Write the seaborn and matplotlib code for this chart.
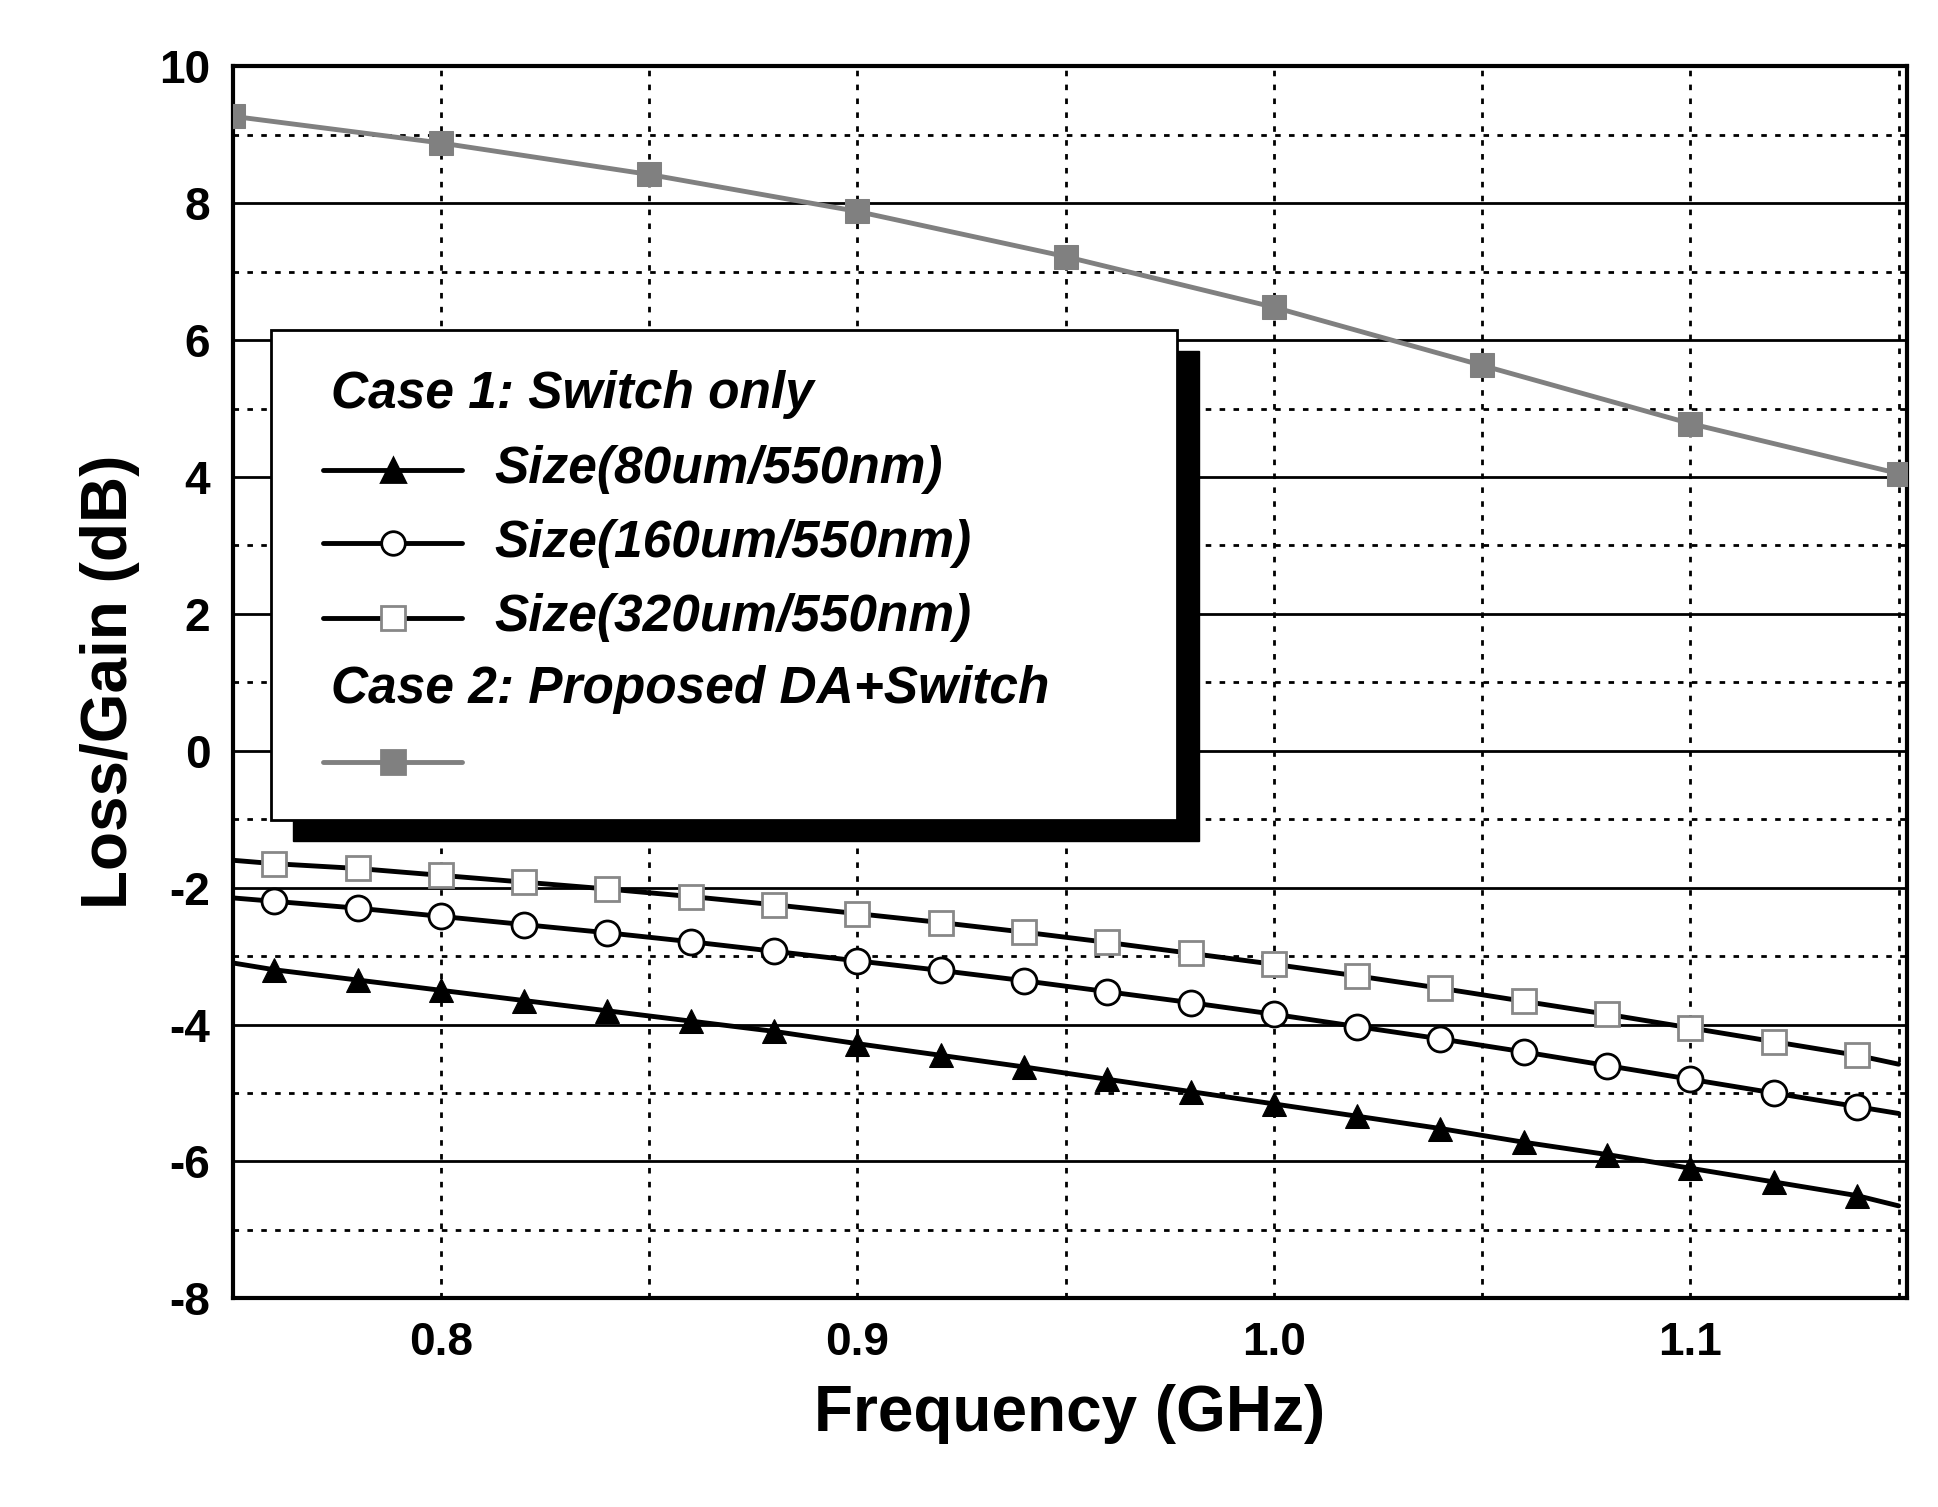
import numpy as np
import pandas as pd
import matplotlib
matplotlib.use("Agg")
import matplotlib.pyplot as plt
from matplotlib.patches import Rectangle
import seaborn as sns

# switch-only curves: line ends at 0.75 and 1.15, markers every 0.02 GHz
freq_sw = [0.75, 0.76, 0.78, 0.80, 0.82, 0.84, 0.86, 0.88, 0.90, 0.92, 0.94, 0.96,
           0.98, 1.00, 1.02, 1.04, 1.06, 1.08, 1.10, 1.12, 1.14, 1.15]
size80 = [-3.1, -3.2, -3.35, -3.5, -3.65, -3.8, -3.95, -4.1, -4.28, -4.45, -4.62, -4.8,
          -4.98, -5.16, -5.34, -5.52, -5.72, -5.9, -6.1, -6.3, -6.5, -6.65]
size160 = [-2.15, -2.2, -2.3, -2.42, -2.54, -2.66, -2.79, -2.93, -3.07, -3.21, -3.36, -3.52,
           -3.68, -3.85, -4.03, -4.21, -4.4, -4.6, -4.8, -5.0, -5.2, -5.3]
size320 = [-1.6, -1.65, -1.72, -1.82, -1.92, -2.02, -2.13, -2.25, -2.38, -2.51, -2.65, -2.8,
           -2.96, -3.12, -3.29, -3.47, -3.66, -3.85, -4.05, -4.25, -4.45, -4.58]
# proposed DA + switch
freq_da = [0.75, 0.80, 0.85, 0.90, 0.95, 1.00, 1.05, 1.10, 1.15]
gain_da = [9.27, 8.88, 8.42, 7.88, 7.22, 6.48, 5.63, 4.78, 4.05]

sns.set_style("white")
plt.rcParams['font.family'] = ['Liberation Sans', 'DejaVu Sans']
plt.rcParams['axes.unicode_minus'] = False
plt.rcParams['text.color'] = 'black'
plt.rcParams['xtick.color'] = 'black'
plt.rcParams['ytick.color'] = 'black'
plt.rcParams['axes.labelcolor'] = 'black'

fig = plt.figure(figsize=(19.38, 15.07), dpi=100)
ax = fig.add_axes([0.12, 0.1385, 0.864, 0.8175])

mid = list(range(1, len(freq_sw) - 1))
sw = pd.DataFrame({"f": freq_sw, "a": size80, "b": size160, "c": size320})
sns.lineplot(data=sw, x="f", y="a", ax=ax, color="black", lw=3.5, marker="^",
             markersize=17, markevery=mid, mfc="black", mec="black")
sns.lineplot(data=sw, x="f", y="b", ax=ax, color="black", lw=3.5, marker="o",
             markersize=18, markevery=mid, mfc="white", mec="black", mew=2)
sns.lineplot(data=sw, x="f", y="c", ax=ax, color="black", lw=3.5, marker="s",
             markersize=17, markevery=mid, mfc="white", mec="#888888", mew=2)
sns.lineplot(x=freq_da, y=gain_da, ax=ax, color="#808080", lw=3.5, marker="s",
             markersize=17, mfc="#808080", mec="#808080", zorder=5)

ax.set_xlim(0.75, 1.152)
ax.set_ylim(-8, 10)
ax.set_xticks([0.8, 0.9, 1.0, 1.1])
ax.set_xticklabels(["0.8", "0.9", "1.0", "1.1"])
ax.set_yticks(range(-8, 11, 2))
ax.set_yticklabels([str(v) for v in range(-8, 11, 2)])
ax.set_xticks(np.arange(0.75, 1.16, 0.05), minor=True)
ax.set_yticks(range(-7, 10, 2), minor=True)
ax.grid(True, which="major", axis="y", color="black", lw=2)
ax.grid(True, which="minor", axis="y", color="black", lw=2, ls=(0, (2, 3)))
ax.grid(True, which="major", axis="x", color="black", lw=2, ls=(0, (2, 3)))
ax.grid(True, which="minor", axis="x", color="black", lw=2, ls=(0, (2, 3)))
ax.set_axisbelow(True)
for s in ax.spines.values():
    s.set_linewidth(3)
    s.set_color("black")
ax.tick_params(axis="both", which="both", length=0, labelsize=33, pad=16)
for t in ax.get_xticklabels() + ax.get_yticklabels():
    t.set_fontweight("bold")
ax.set_xlabel("Frequency (GHz)", fontsize=46, fontweight="bold", labelpad=14)
ax.set_ylabel("Loss/Gain (dB)", fontsize=46, fontweight="bold", labelpad=14)

# legend box with shadow
x0, x1, y0, y1 = 0.023, 0.564, 0.388, 0.786
ax.add_patch(Rectangle((x0 + 0.013, y0 - 0.017), x1 - x0, y1 - y0, transform=ax.transAxes,
                       facecolor="black", edgecolor="black", zorder=9))
ax.add_patch(Rectangle((x0, y0), x1 - x0, y1 - y0, transform=ax.transAxes,
                       facecolor="white", edgecolor="black", lw=2, zorder=10))

def ax_y(p):
    return (1045 - p) / 992

def ax_x(p):
    return (p - 187) / 1348

tkw = dict(transform=ax.transAxes, fontsize=37, fontweight="bold", style="italic",
           va="center", zorder=12)
ax.text(ax_x(266), ax_y(317), "Case 1: Switch only", **tkw)
ax.text(ax_x(266), ax_y(555), "Case 2: Proposed DA+Switch", **tkw)
entries = [(378, "Size(80um/550nm)", "^", "black", "black", "black"),
           (437, "Size(160um/550nm)", "o", "black", "white", "black"),
           (497, "Size(320um/550nm)", "s", "black", "white", "#888888"),
           (613, "", "s", "#808080", "#808080", "#808080")]
for py, label, m, lc, fc, ec in entries:
    yy = ax_y(py)
    ax.plot([ax_x(260), ax_x(372)], [yy, yy], transform=ax.transAxes, color=lc, lw=3.5,
            zorder=11, clip_on=False)
    ax.plot([ax_x(316)], [yy], transform=ax.transAxes, marker=m, markersize=17,
            mfc=fc, mec=ec, mew=2, zorder=12, clip_on=False)
    if label:
        ax.text(ax_x(398), yy, label, **tkw)

fig.savefig("out.png", dpi=100)
